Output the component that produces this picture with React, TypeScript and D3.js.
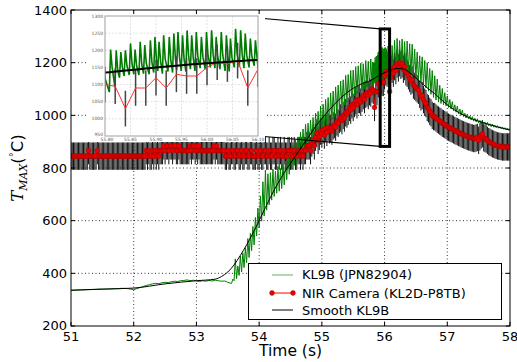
import React from 'react';
import * as d3 from 'd3';

// ---- axis ticks ----
const X_TICKS = [51, 52, 53, 54, 55, 56, 57, 58];
const Y_TICKS = [200, 400, 600, 800, 1000, 1200, 1400];
const INSET_X_TICKS = [55.8, 55.85, 55.9, 55.95, 56.0, 56.05, 56.1];
const INSET_Y_TICKS = [950, 1000, 1050, 1100, 1150, 1200, 1250, 1300];

// ---- KL9B raw signal ----
// slow part, one value every 0.05 s from 51.00
const GREEN_EARLY_START = 51.0;
const GREEN_EARLY = [
  335, 336, 336, 337, 337, 338, 338, 339, 339, 340,
  340, 340, 341, 341, 342, 342, 343, 343, 342, 340,
  338, 342, 346, 350, 354, 357, 360, 362, 361, 364,
  366, 365, 368, 370, 369, 372, 373, 375, 372, 374,
  371, 369, 372, 370, 373, 371, 374, 372, 370, 371,
  366, 362,
];
// oscillating rise: [trough, peak] every 0.04 s from 53.56
const GREEN_RISE_START = 53.56;
const GREEN_RISE = [
  [362, 378], [372, 455], [380, 428], [392, 466], [405, 478], [422, 497], [440, 532], [460, 552], [486, 578], [508, 612],
  [542, 648], [572, 694], [598, 748], [618, 792], [640, 778], [660, 782], [678, 796], [692, 788], [704, 806], [712, 798],
  [722, 814], [736, 826], [756, 848], [776, 872], [794, 886], [810, 906], [822, 918], [836, 936], [850, 948], [864, 966],
  [878, 970], [888, 982], [898, 992], [908, 1008], [920, 1015], [930, 1035], [942, 1042], [950, 1060], [962, 1068], [970, 1085],
  [984, 1092], [994, 1108], [1004, 1115], [1018, 1130], [1028, 1135], [1040, 1152], [1050, 1155], [1058, 1170], [1068, 1172], [1074, 1185],
  [1082, 1188], [1088, 1198], [1096, 1196], [1100, 1208], [1108, 1205], [1100, 1214],
];
// individual cycles inside the zoom window: [peak time, base, peak, shoulder]
const GREEN_ZOOM = [
  [55.811, 1078, 1202, 1150], [55.822, 1092, 1200, 1140], [55.831, 1120, 1195, 1150], [55.84, 1125, 1200, 1155],
  [55.85, 1128, 1220, 1160], [55.859, 1130, 1202, 1155], [55.869, 1128, 1225, 1160], [55.878, 1132, 1215, 1162],
  [55.889, 1130, 1229, 1165], [55.898, 1135, 1239, 1170], [55.906, 1140, 1225, 1168], [55.915, 1132, 1244, 1175],
  [55.926, 1138, 1239, 1172], [55.935, 1135, 1249, 1178], [55.943, 1142, 1253, 1180], [55.952, 1140, 1244, 1175],
  [55.961, 1138, 1258, 1182], [55.97, 1145, 1244, 1178], [55.979, 1140, 1253, 1182], [55.989, 1148, 1239, 1180],
  [55.999, 1145, 1253, 1185], [56.009, 1150, 1258, 1188], [56.018, 1148, 1239, 1182], [56.028, 1145, 1253, 1185],
  [56.038, 1140, 1244, 1180], [56.046, 1138, 1234, 1178], [56.056, 1150, 1263, 1190], [56.066, 1152, 1258, 1188],
  [56.075, 1148, 1249, 1185], [56.085, 1150, 1234, 1182], [56.095, 1155, 1229, 1180],
];
// oscillating decay: [trough, peak] every 0.04 s from 56.10
const GREEN_FALL_START = 56.1;
const GREEN_FALL = [
  [1150, 1265], [1165, 1285], [1172, 1292], [1176, 1284], [1180, 1290], [1174, 1280], [1170, 1282], [1162, 1272], [1155, 1270], [1148, 1252],
  [1140, 1240], [1132, 1226], [1124, 1222], [1116, 1208], [1104, 1200], [1092, 1178], [1080, 1170], [1068, 1150], [1058, 1138], [1050, 1114],
  [1045, 1102], [1040, 1086], [1036, 1074], [1030, 1060], [1024, 1052], [1018, 1040], [1012, 1035], [1006, 1024], [1000, 1020], [995, 1008],
  [990, 1005], [986, 997], [982, 995], [978, 989], [975, 987], [971, 981], [968, 979], [965, 974], [962, 973], [960, 968],
  [957, 967], [955, 962], [953, 961], [951, 957], [949, 956], [947, 953], [945, 952], [944, 950],
];

// ---- smoothed KL9B ----
const SMOOTH_T = [51.0, 51.5, 52.0, 52.5, 53.0, 53.3, 53.4, 53.5, 53.6, 53.7, 53.8, 53.9, 54.0, 54.1, 54.2, 54.3, 54.4, 54.5, 54.6, 54.7, 54.8, 54.9, 55.0, 55.2, 55.4, 55.6, 55.8, 55.9, 56.0, 56.1, 56.2, 56.3, 56.4, 56.5, 56.6, 56.8, 57.0, 57.2, 57.4, 57.6, 57.8, 58.0];
const SMOOTH_V = [336, 340, 344, 360, 372, 378, 388, 405, 432, 468, 508, 552, 600, 650, 698, 742, 782, 818, 852, 888, 922, 958, 988, 1042, 1086, 1116, 1135, 1150, 1162, 1172, 1178, 1176, 1162, 1142, 1120, 1082, 1040, 1008, 986, 970, 956, 944];

// ---- NIR camera, one frame every 0.02 s from 51.00 ----
const NIR_START = 51.0;
const NIR_STEP = 0.02;
const NIR_ERR = 52;
const NIR_VALUES = [
  845, 845, 845, 845, 845, 845, 845, 845, 845, 845,
  845, 845, 845, 845, 866, 845, 845, 845, 845, 845,
  845, 866, 845, 845, 845, 845, 845, 845, 845, 845,
  845, 845, 845, 845, 845, 845, 845, 845, 845, 845,
  845, 845, 845, 845, 845, 845, 845, 845, 845, 845,
  845, 845, 845, 845, 845, 845, 845, 845, 845, 845,
  866, 845, 866, 845, 845, 866, 845, 866, 845, 866,
  845, 866, 866, 866, 884, 866, 884, 884, 866, 884,
  884, 866, 884, 884, 866, 866, 884, 866, 866, 866,
  866, 866, 866, 866, 866, 884, 866, 884, 884, 866,
  884, 866, 884, 866, 866, 866, 866, 866, 866, 866,
  866, 866, 866, 866, 884, 866, 884, 866, 866, 866,
  866, 866, 866, 845, 845, 866, 845, 845, 866, 866,
  845, 845, 866, 866, 845, 845, 866, 845, 845, 866,
  866, 845, 845, 866, 866, 845, 845, 845, 866, 845,
  845, 866, 845, 845, 866, 866, 845, 845, 866, 845,
  845, 866, 866, 845, 845, 866, 845, 866, 845, 845,
  866, 845, 845, 866, 866, 845, 866, 845, 866, 845,
  845, 866, 866, 845, 866, 845, 866, 866, 884, 884,
  884, 866, 895, 905, 884, 917, 933, 905, 920, 940,
  930, 945, 925, 950, 935, 955, 945, 950, 940, 960,
  965, 955, 975, 970, 985, 990, 980, 1000, 990, 1010,
  1005, 1015, 1030, 1020, 1040, 1030, 1045, 1055, 1040, 1060,
  1060, 1050, 1065, 1075, 1060, 1080, 1085, 1075, 1090, 1085,
  1100, 1095, 1030, 1090, 1090, 1120, 1090, 1130, 1125, 1125,
  1150, 1165, 1160, 1170, 1090, 1145, 1175, 1160, 1185, 1170,
  1195, 1180, 1200, 1190, 1195, 1175, 1185, 1165, 1160, 1150,
  1140, 1130, 1135, 1115, 1110, 1105, 1100, 1095, 1080, 1070,
  1075, 1060, 1050, 1045, 1030, 1025, 1015, 1010, 1000, 995,
  995, 990, 985, 982, 978, 975, 970, 968, 965, 962,
  958, 955, 952, 950, 948, 945, 942, 940, 938, 935,
  933, 930, 928, 926, 924, 922, 920, 918, 917, 915,
  914, 912, 912, 914, 916, 905, 918, 925, 930, 915,
  912, 910, 905, 900, 898, 895, 892, 890, 888, 886,
  884, 883, 882, 881, 880, 880, 880, 880, 880, 880,
  880,
];

// zoomed window drawn on the main axes
const ZOOM_BOX = { t0: 55.93, t1: 56.08, v0: 882, v1: 1328 };

const FONT = 'DejaVu Sans, sans-serif';

export default function App() {
  const x = d3.scaleLinear().domain([51, 58]).range([71, 510]);
  const y = d3.scaleLinear().domain([200, 1400]).range([326, 10]);
  const ix = d3.scaleLinear().domain([55.8, 56.1]).range([105, 258]);
  const iy = d3.scaleLinear().domain([950, 1300]).range([136, 16]);

  const green: [number, number][] = [];
  GREEN_EARLY.forEach((v, i) => green.push([GREEN_EARLY_START + i * 0.05, v]));
  GREEN_RISE.forEach(([lo, hi], i) => {
    const t = GREEN_RISE_START + i * 0.04;
    green.push([t, lo], [t + 0.02, hi]);
  });
  GREEN_ZOOM.forEach(([tp, base, peak, sh]) => {
    green.push([tp - 0.0025, base], [tp, peak], [tp + 0.003, sh]);
  });
  GREEN_FALL.forEach(([lo, hi], i) => {
    const t = GREEN_FALL_START + i * 0.04;
    green.push([t, lo], [t + 0.02, hi]);
  });

  const nir = NIR_VALUES.map((v, i) => ({ t: NIR_START + i * NIR_STEP, v }));
  const smooth = SMOOTH_T.map((t, i) => [t, SMOOTH_V[i]] as [number, number]);

  const mainLine = d3.line<[number, number]>().x(d => x(d[0])).y(d => y(d[1]));
  const insetLine = d3.line<[number, number]>().x(d => ix(d[0])).y(d => iy(d[1]));
  const mainSmooth = d3.line<[number, number]>().x(d => x(d[0])).y(d => y(d[1])).curve(d3.curveMonotoneX);
  const insetSmooth = d3.line<[number, number]>().x(d => ix(d[0])).y(d => iy(d[1])).curve(d3.curveMonotoneX);
  const nirPts = nir.map(d => [d.t, d.v] as [number, number]);

  const [L, R] = x.range();
  const [B, T] = y.range();
  const [iL, iR] = ix.range();
  const [iB, iT] = iy.range();

  const bx0 = x(ZOOM_BOX.t0), bx1 = x(ZOOM_BOX.t1);
  const by0 = y(ZOOM_BOX.v0), by1 = y(ZOOM_BOX.v1);

  return (
    <svg width={517} height={362} style={{ position: 'absolute', left: 0, top: 0, background: '#fff' }} fontFamily={FONT}>
      <defs>
        <clipPath id="main-clip"><rect x={L} y={T} width={R - L} height={B - T} /></clipPath>
        <clipPath id="inset-clip"><rect x={iL} y={iT} width={iR - iL} height={iB - iT} /></clipPath>
      </defs>

      {/* grid */}
      <g stroke="#000" strokeWidth={0.8} strokeDasharray="1,2.5">
        {X_TICKS.slice(1, -1).map(t => <line key={t} x1={x(t)} x2={x(t)} y1={T} y2={B} />)}
        {Y_TICKS.slice(1, -1).map(v => <line key={v} x1={L} x2={R} y1={y(v)} y2={y(v)} />)}
      </g>

      <g clipPath="url(#main-clip)">
        {/* error bars */}
        <g stroke="#111" strokeWidth={1}>
          {nir.map((d, i) => (
            <line key={i} x1={x(d.t)} x2={x(d.t)} y1={y(d.v - NIR_ERR)} y2={y(d.v + NIR_ERR)} />
          ))}
        </g>
        <path d={mainLine(green) || ''} fill="none" stroke="#008000" strokeWidth={1} />
        <path d={mainLine(nirPts) || ''} fill="none" stroke="#ff0000" strokeWidth={1} />
        <g fill="#ee0000" stroke="#990000" strokeWidth={0.5}>
          {nir.map((d, i) => <circle key={i} cx={x(d.t)} cy={y(d.v)} r={2.4} />)}
        </g>
        <path d={mainSmooth(smooth) || ''} fill="none" stroke="#000" strokeWidth={1} />
      </g>

      {/* zoom box and connectors */}
      <rect x={bx0} y={by1} width={bx1 - bx0} height={by0 - by1} fill="none" stroke="#000" strokeWidth={3} />
      <line x1={iR} y1={iT + 2} x2={bx0} y2={by1} stroke="#000" strokeWidth={1.2} />
      <line x1={iR} y1={iB} x2={bx0} y2={by0} stroke="#000" strokeWidth={1.2} />

      {/* inset */}
      <rect x={87} y={11} width={178} height={131} fill="#fff" />
      <g stroke="#cfcfcf" strokeWidth={0.6} strokeDasharray="2,1.5">
        {INSET_X_TICKS.slice(1, -1).map(t => <line key={t} x1={ix(t)} x2={ix(t)} y1={iT} y2={iB} />)}
        {INSET_Y_TICKS.slice(1, -1).map(v => <line key={v} x1={iL} x2={iR} y1={iy(v)} y2={iy(v)} />)}
      </g>
      <g clipPath="url(#inset-clip)">
        <path d={insetLine(green) || ''} fill="none" stroke="#007a00" strokeWidth={1.6} />
        <g stroke="#444" strokeWidth={1.5}>
          {nir.map((d, i) => (
            <line key={i} x1={ix(d.t)} x2={ix(d.t)} y1={iy(d.v - NIR_ERR)} y2={iy(d.v + NIR_ERR)} />
          ))}
        </g>
        <path d={insetLine(nirPts) || ''} fill="none" stroke="#ff3030" strokeWidth={1} />
        <path d={insetSmooth(smooth) || ''} fill="none" stroke="#000" strokeWidth={2} />
      </g>
      <rect x={iL} y={iT} width={iR - iL} height={iB - iT} fill="none" stroke="#a0a0a0" strokeWidth={1} />
      <g fontSize={4.5} fill="#555">
        {INSET_X_TICKS.map(t => (
          <text key={t} x={ix(t) + (t === 55.8 ? 2 : 0)} y={iB + 4.6} textAnchor="middle">{t.toFixed(2)}</text>
        ))}
        {INSET_Y_TICKS.map(v => (
          <text key={v} x={iL - 2} y={iy(v) + (v === 950 ? 0.4 : 1.6)} textAnchor="end">{v}</text>
        ))}
      </g>

      {/* main frame and ticks */}
      <rect x={L} y={T} width={R - L} height={B - T} fill="none" stroke="#000" strokeWidth={1} />
      <g stroke="#000" strokeWidth={1}>
        {X_TICKS.map(t => (
          <g key={t}>
            <line x1={x(t)} x2={x(t)} y1={B} y2={B - 4} />
            <line x1={x(t)} x2={x(t)} y1={T} y2={T + 4} />
          </g>
        ))}
        {Y_TICKS.map(v => (
          <g key={v}>
            <line x1={L} x2={L + 4} y1={y(v)} y2={y(v)} />
            <line x1={R} x2={R - 4} y1={y(v)} y2={y(v)} />
          </g>
        ))}
      </g>
      <g fontSize={13} fill="#000">
        {X_TICKS.map(t => (
          <text key={t} x={x(t)} y={341} textAnchor="middle">{t}</text>
        ))}
        {Y_TICKS.map(v => (
          <text key={v} x={L - 4} y={y(v) + (v === 200 ? 3.5 : 4.7)} textAnchor="end">{v}</text>
        ))}
      </g>
      <text x={(L + R) / 2} y={356} textAnchor="middle" fontSize={15.5}>Time (s)</text>
      <text transform="translate(23,168) rotate(-90)" textAnchor="middle" fontSize={16.5}>
        <tspan fontFamily="DejaVu Serif, serif" fontStyle="italic">T</tspan>
        <tspan fontFamily="DejaVu Serif, serif" fontStyle="italic" fontSize={11} dy={3.5}>MAX</tspan>
        <tspan dy={-3.5}>(</tspan>
        <tspan fontSize={10} dy={-6}>°</tspan>
        <tspan dy={6}>C)</tspan>
      </text>

      {/* legend */}
      <g fontSize={13}>
        <rect x={248.5} y={263.5} width={253} height={56} fill="#fff" stroke="#000" strokeWidth={1} />
        <line x1={272} x2={293} y1={275} y2={275} stroke="#008000" strokeWidth={1} strokeOpacity={0.6} />
        <text x={302} y={279}>KL9B (JPN82904)</text>
        <line x1={272} x2={293} y1={293} y2={293} stroke="#ff0000" strokeWidth={1} />
        <circle cx={272} cy={293} r={2.4} fill="#ee0000" stroke="#990000" strokeWidth={0.5} />
        <circle cx={293} cy={293} r={2.4} fill="#ee0000" stroke="#990000" strokeWidth={0.5} />
        <text x={302} y={297.5}>NIR Camera (KL2D-P8TB)</text>
        <line x1={272} x2={293} y1={310} y2={310} stroke="#000" strokeWidth={1} />
        <text x={302} y={314.5}>Smooth KL9B</text>
      </g>
    </svg>
  );
}
